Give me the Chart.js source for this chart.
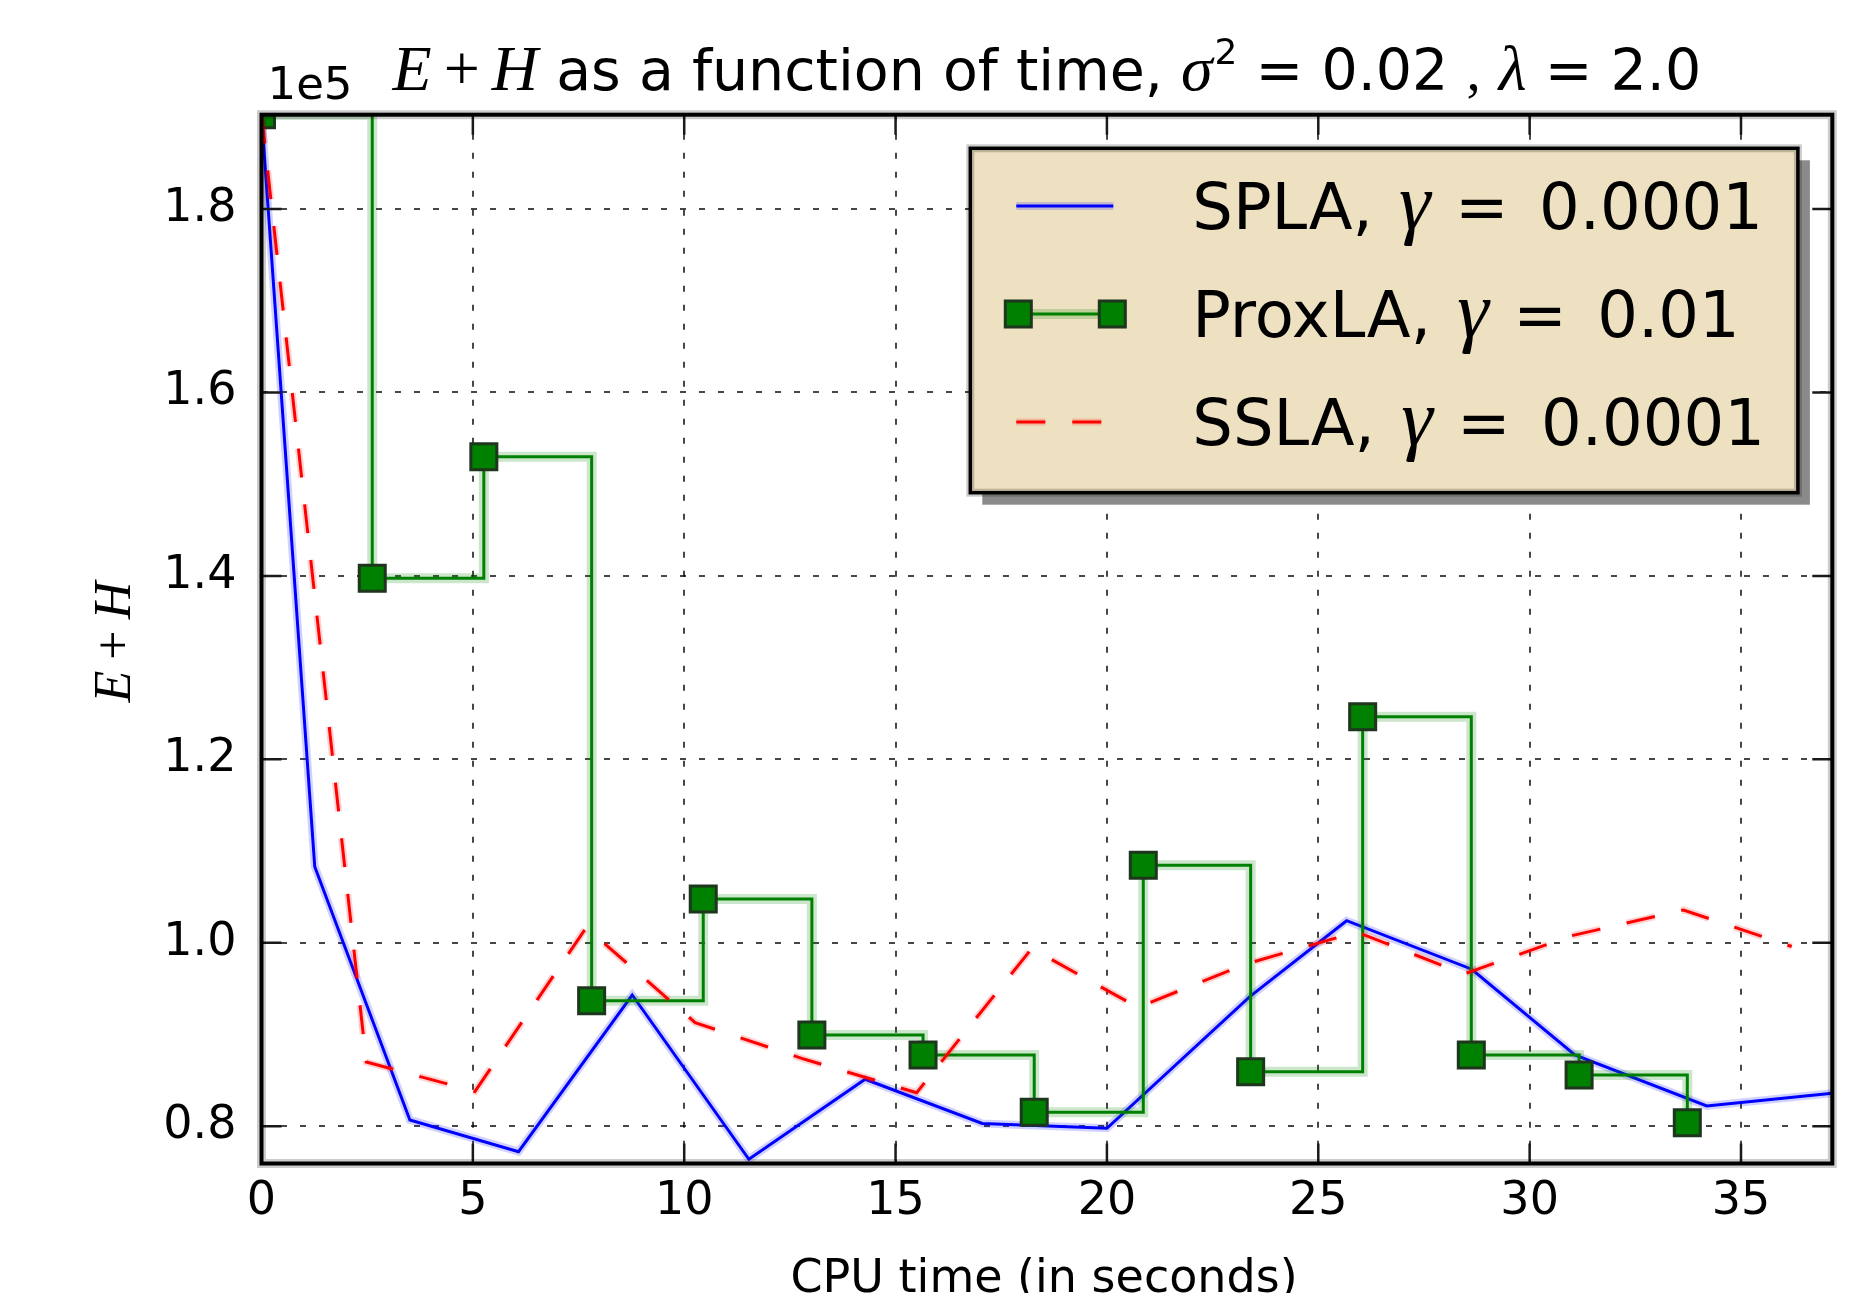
<!doctype html>
<html>
<head>
<meta charset="UTF-8">
<title>E+H as a function of time</title>
<script src="https://cdn.jsdelivr.net/npm/chart.js@4.4.0/dist/chart.umd.min.js"></script>
<style>
  html, body { margin: 0; padding: 0; background: #fff; overflow: hidden; }
  #holder { width: 1861px; height: 1330px; }
</style>
</head>
<body>
<div id="holder"><canvas id="c" width="1861" height="1330"></canvas></div>
<script>
// CPU time (s) and E+H values
const splaTime  = [0, 1.26, 3.51, 6.08, 8.77, 11.53, 14.28, 17.05, 20.0, 23.38, 25.67, 28.63, 31.07, 34.19, 37.16];
const splaValue = [190280, 108300, 80690, 77230, 94310, 76400, 85120, 80300, 79780, 94130, 102410, 97120, 87770, 82210, 83600];

const proxTime  = [0, 2.62, 5.26, 7.81, 10.45, 13.02, 15.65, 18.28, 20.86, 23.40, 26.05, 28.62, 31.17, 33.73];
const proxValue = [190280, 139740, 153000, 93690, 104780, 89950, 87770, 81530, 108450, 85950, 124640, 87770, 85590, 80390];

const sslaTime  = [0, 2.48, 5.05, 7.68, 10.26, 12.85, 15.5, 18.22, 20.73, 23.3, 25.91, 28.45, 31.0, 33.64, 36.2];
const sslaValue = [190280, 87000, 83800, 101650, 91300, 87300, 83660, 99380, 92960, 97700, 101180, 96600, 100780, 103580, 99600];

const xTicks = [0, 5, 10, 15, 20, 25, 30, 35];
const yTicks = [80000, 100000, 120000, 140000, 160000, 180000];
const xMin = 0, xMax = 37.16;
const yMin = 75940, yMax = 190280;

const SANS = '"DejaVu Sans"';
const MATH = '"Liberation Serif"';
const H = 1330;

function pts(xs, ys) {
  return xs.map((x, i) => ({x: x, y: ys[i]}));
}

const blue = '#0000ff', green = '#008000', red = '#ff0000';

const datasets = [
  {label: 'halo-spla', data: pts(splaTime, splaValue), borderColor: 'rgba(0,0,255,0.18)', borderWidth: 8, pointRadius: 0, order: 6},
  {label: 'SPLA', data: pts(splaTime, splaValue), borderColor: blue, borderWidth: 3, pointRadius: 0, order: 5},
  {label: 'halo-prox', data: pts(proxTime, proxValue), borderColor: 'rgba(0,128,0,0.2)', borderWidth: 10, pointRadius: 0, stepped: 'before', order: 4},
  {label: 'ProxLA', data: pts(proxTime, proxValue), borderColor: green, borderWidth: 3, stepped: 'before',
   pointStyle: 'rect', pointRadius: 18.4, pointBackgroundColor: green, pointBorderColor: '#1d361d', pointBorderWidth: 3, order: 3},
  {label: 'halo-ssla', data: pts(sslaTime, sslaValue), borderColor: 'rgba(255,0,0,0.18)', borderWidth: 7, borderDash: [29, 27], pointRadius: 0, order: 2},
  {label: 'SSLA', data: pts(sslaTime, sslaValue), borderColor: red, borderWidth: 3, borderDash: [29, 27], pointRadius: 0, order: 1}
];
datasets.forEach(d => { d.clip = 0; d.tension = 0; d.fill = false; });

function richWidth(ctx, parts) {
  let w = 0;
  for (const p of parts) {
    if (p.gap) { w += p.gap; continue; }
    ctx.font = p.font; w += ctx.measureText(p.t).width;
  }
  return w;
}
function drawRich(ctx, parts, x, y) {
  let cx = x;
  for (const p of parts) {
    if (p.gap) { cx += p.gap; continue; }
    ctx.font = p.font;
    ctx.fillText(p.t, cx, y + (p.dy || 0));
    cx += ctx.measureText(p.t).width;
  }
}

const decor = {
  id: 'decor',
  afterDraw(chart) {
    const ctx = chart.ctx;
    const a = chart.chartArea;
    const xs = chart.scales.x, ys = chart.scales.y;
    ctx.save();

    // inward ticks on all four sides
    ctx.strokeStyle = '#1a1a1a';
    ctx.lineWidth = 2.5;
    ctx.beginPath();
    xs.ticks.forEach(t => {
      const p = xs.getPixelForValue(t.value);
      ctx.moveTo(p, a.bottom); ctx.lineTo(p, a.bottom - 20);
      ctx.moveTo(p, a.top); ctx.lineTo(p, a.top + 20);
    });
    ys.ticks.forEach(t => {
      const p = ys.getPixelForValue(t.value);
      ctx.moveTo(a.left, p); ctx.lineTo(a.left + 20, p);
      ctx.moveTo(a.right, p); ctx.lineTo(a.right - 20, p);
    });
    ctx.stroke();

    // frame
    ctx.strokeStyle = 'rgba(0,0,0,0.2)';
    ctx.lineWidth = 9;
    ctx.strokeRect(a.left, a.top, a.right - a.left, a.bottom - a.top);
    ctx.strokeStyle = '#000';
    ctx.lineWidth = 4;
    ctx.strokeRect(a.left, a.top, a.right - a.left, a.bottom - a.top);

    ctx.fillStyle = '#000';
    ctx.textBaseline = 'alphabetic';
    ctx.textAlign = 'left';

    // title
    const tf = '57px ' + SANS, mf = 'italic 64px ' + MATH;
    const title = [
      {t: 'E', font: mf}, {gap: 12}, {t: '+', font: '64px ' + MATH}, {gap: 12}, {t: 'H', font: mf},
      {t: ' as a function of time, ', font: tf},
      {t: '\u03c3', font: mf}, {gap: 2}, {t: '2', font: '36px ' + SANS, dy: -26},
      {t: ' = 0.02 ', font: tf}, {t: ',', font: '57px ' + MATH}, {t: ' ', font: tf},
      {t: '\u03bb', font: mf}, {t: ' = 2.0', font: tf}
    ];
    const cxTitle = (a.left + a.right) / 2;
    drawRich(ctx, title, cxTitle - richWidth(ctx, title) / 2, 90);

    // offset text
    ctx.font = '45px ' + SANS;
    ctx.fillText('1e5', a.left + 6, 99);

    // x axis title
    ctx.font = '46px ' + SANS;
    ctx.textAlign = 'center';
    ctx.fillText('CPU time (in seconds)', 1044, 1292);
    ctx.textAlign = 'left';

    // y axis title
    const yl = [{t: 'E', font: 'italic 52px ' + MATH}, {gap: 11}, {t: '+', font: '52px ' + MATH}, {gap: 11}, {t: 'H', font: 'italic 52px ' + MATH}];
    ctx.save();
    ctx.translate(129.5, (a.top + a.bottom) / 2 + 3);
    ctx.rotate(-Math.PI / 2);
    drawRich(ctx, yl, -richWidth(ctx, yl) / 2, 0);
    ctx.restore();

    // legend
    const lx = a.right - 862, ly = a.top + 33.6, lw = 827.6, lh = 344.4;
    ctx.fillStyle = '#8a8a8a';
    ctx.fillRect(lx + 12, ly + 12, lw, lh);
    ctx.fillStyle = '#eee1c1';
    ctx.fillRect(lx, ly, lw, lh);
    ctx.strokeStyle = 'rgba(0,0,0,0.2)';
    ctx.lineWidth = 8;
    ctx.strokeRect(lx, ly, lw, lh);
    ctx.strokeStyle = '#000';
    ctx.lineWidth = 3.5;
    ctx.strokeRect(lx, ly, lw, lh);

    const ds = chart.data.datasets;
    const entries = [
      {main: ds[1], halo: ds[0], name: 'SPLA, ', val: '0.0001'},
      {main: ds[3], halo: ds[2], name: 'ProxLA, ', val: '0.01'},
      {main: ds[5], halo: ds[4], name: 'SSLA, ', val: '0.0001'}
    ];
    const hx0 = lx + 46, hx1 = lx + 143;
    entries.forEach((e, i) => {
      const cy = ly + 57.7 + i * 108;
      ctx.setLineDash(e.main.borderDash || []);
      ctx.strokeStyle = e.halo.borderColor;
      ctx.lineWidth = e.halo.borderWidth;
      ctx.beginPath(); ctx.moveTo(hx0, cy); ctx.lineTo(hx1, cy); ctx.stroke();
      ctx.strokeStyle = e.main.borderColor;
      ctx.lineWidth = e.main.borderWidth;
      ctx.beginPath(); ctx.moveTo(hx0, cy); ctx.lineTo(hx1, cy); ctx.stroke();
      ctx.setLineDash([]);
      if (e.main.pointStyle === 'rect') {
        const s = e.main.pointRadius * Math.SQRT1_2;
        [hx0 + 2, hx1 - 1].forEach(px => {
          ctx.fillStyle = e.main.pointBackgroundColor;
          ctx.fillRect(px - s, cy - s, 2 * s, 2 * s);
          ctx.strokeStyle = e.main.pointBorderColor;
          ctx.lineWidth = e.main.pointBorderWidth;
          ctx.strokeRect(px - s, cy - s, 2 * s, 2 * s);
        });
      }
      ctx.fillStyle = '#000';
      drawRich(ctx, [
        {t: e.name, font: '64px ' + SANS}, {gap: 6},
        {t: '\u03b3', font: 'italic 80px ' + MATH}, {gap: 4},
        {t: ' = ', font: '64px ' + SANS}, {gap: 10},
        {t: e.val, font: '64px ' + SANS}
      ], lx + 222, cy + 22.5);
    });

    ctx.restore();
  }
};

const tickFont = {family: SANS, size: 46, lineHeight: 1};

new Chart(document.getElementById('c'), {
  type: 'line',
  data: {datasets: datasets},
  options: {
    responsive: false,
    animation: false,
    events: [],
    layout: {padding: {left: 0, top: 114.7, right: 28.7, bottom: 0}},
    plugins: {legend: {display: false}, title: {display: false}, tooltip: {enabled: false}},
    scales: {
      x: {
        type: 'linear', min: xMin, max: xMax,
        afterFit: s => { s.height = H - 1163.5; },
        afterBuildTicks: s => { s.ticks = xTicks.map(v => ({value: v})); },
        ticks: {padding: 16, font: tickFont, color: '#000', maxRotation: 0, autoSkip: false,
                callback: v => String(v)},
        grid: {color: 'rgba(0,0,0,0.72)', lineWidth: 2, drawTicks: false},
        border: {display: false, dash: [6, 13]}
      },
      y: {
        type: 'linear', min: yMin, max: yMax,
        afterFit: s => { s.width = 261.5; },
        afterBuildTicks: s => { s.ticks = yTicks.map(v => ({value: v})); },
        ticks: {padding: 25, font: tickFont, color: '#000', autoSkip: false,
                callback: v => (v / 1e5).toFixed(1)},
        grid: {color: 'rgba(0,0,0,0.72)', lineWidth: 2, drawTicks: false},
        border: {display: false, dash: [6, 13]}
      }
    }
  },
  plugins: [decor]
});
</script>
</body>
</html>
